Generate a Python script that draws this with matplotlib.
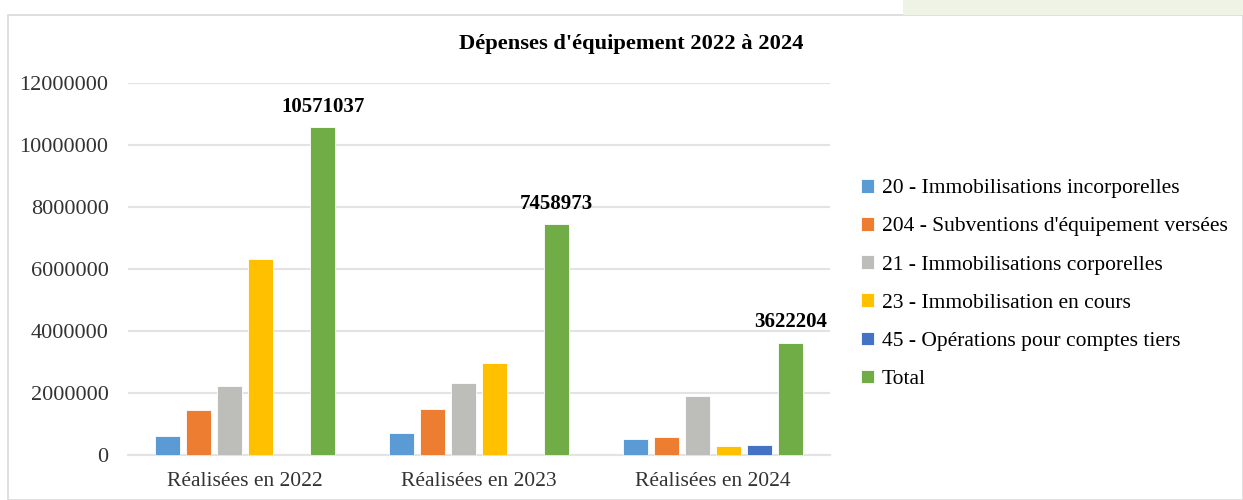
import matplotlib.pyplot as plt
import matplotlib.patches as mpatches
import numpy as np

plt.rcParams['font.family'] = ['Liberation Serif', 'DejaVu Serif']

categories = ['Réalisées en 2022', 'Réalisées en 2023', 'Réalisées en 2024']
series_names = ['20 - Immobilisations incorporelles',
                "204 - Subventions d'équipement versées",
                '21 - Immobilisations corporelles',
                '23 - Immobilisation en cours',
                '45 - Opérations pour comptes tiers',
                'Total']
immo_incorp = [610000, 710000, 530000]
subventions = [1450000, 1480000, 590000]
immo_corp = [2230000, 2320000, 1900000]
immo_cours = [6320000, 2970000, 280000]
comptes_tiers = [0, 0, 320000]
total = [10571037, 7458973, 3622204]
colors = ['#5B9BD5', '#ED7D31', '#BDBDBA', '#FFC000', '#4472C4', '#70AD47']

data = [immo_incorp, subventions, immo_corp, immo_cours, comptes_tiers, total]

fig = plt.figure(figsize=(12.43, 5), dpi=100)
# cadre du graphique + bandeau vert en haut à droite
fig.patches.append(mpatches.Rectangle((8/1243, 0), 1 - 8/1243, 1 - 15/500, transform=fig.transFigure,
                                      facecolor='white', edgecolor='#D9D9D9', lw=1.2, zorder=-5))
fig.patches.append(mpatches.Rectangle((903/1243, 1 - 15/500), 1 - 903/1243, 15/500, transform=fig.transFigure,
                                      facecolor='#EEF3E6', edgecolor='none', zorder=-5))

ax = fig.add_axes([128/1243, 45/500, 702/1243, 372/500])
ax.patch.set_alpha(0)
x = np.arange(len(categories))
step = 0.133
width = 0.108
for i, vals in enumerate(data):
    pos = x + (i - 2.5) * step
    ax.bar(pos, vals, width, color=colors[i], label=series_names[i], zorder=3,
           edgecolor='white', linewidth=0.6)
for xi, v in zip(x + 2.5 * step, total):
    ax.text(xi, v + 330000, str(v), ha='center', va='bottom', fontsize=15, fontweight='bold')

ax.set_ylim(0, 12000000)
ax.set_xlim(-0.5, 2.5)
ax.set_yticks(np.arange(0, 12000001, 2000000))
ax.set_yticklabels([str(v) for v in range(0, 12000001, 2000000)], fontsize=16, color='#333333')
ax.set_xticks(x)
ax.set_xticklabels(categories, fontsize=15.5, color='#333333')
ax.tick_params(length=0)
ax.tick_params(axis='y', pad=14)
ax.tick_params(axis='x', pad=12)
ax.yaxis.grid(True, color='#E3E3E3', lw=1.5, zorder=0)
for s in ['top', 'right', 'left']:
    ax.spines[s].set_visible(False)
ax.spines['bottom'].set_color('#E3E3E3')
ax.spines['bottom'].set_linewidth(1.5)

fig.text(631/1243, 1 - 44/500, "Dépenses d'équipement 2022 à 2024", ha='center', va='center',
         fontsize=16.2, fontweight='bold')

ax.legend(loc='center left', bbox_to_anchor=(842/1243, 1 - 284/500), bbox_transform=fig.transFigure,
          frameon=False, fontsize=15.5, handlelength=0.6, handleheight=0.6, handletextpad=0.35,
          labelspacing=0.87)

fig.savefig('out.png', dpi=100)
